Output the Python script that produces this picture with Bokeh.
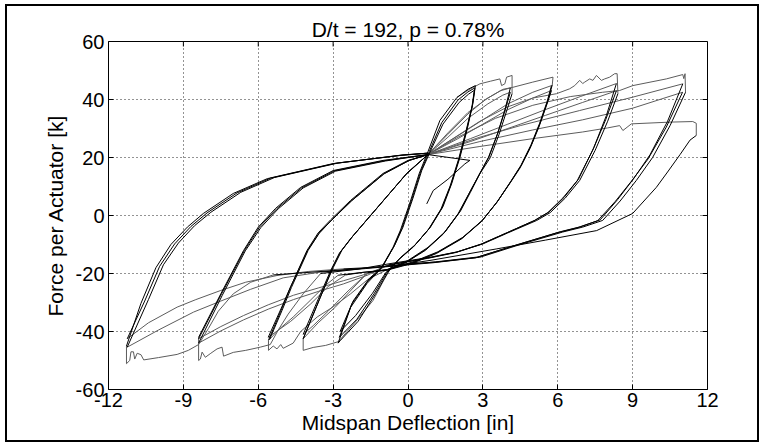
from bokeh.plotting import figure
from bokeh.models import Range1d, FixedTicker
from bokeh.embed import file_html
from bokeh.resources import INLINE

FONT = "Liberation Sans"
title_text = "D/t = 192, p = 0.78%"
x_label = "Midspan Deflection [in]"
y_label = "Force per Actuator [k]"
x_limits = (-12, 12)
y_limits = (-60, 60)
x_ticks = [-12, -9, -6, -3, 0, 3, 6, 9, 12]
x_tick_labels = ["-12", "-9", "-6", "-3", "0", "3", "6", "9", "12"]
y_ticks = [-60, -40, -20, 0, 20, 40, 60]
y_tick_labels = ["-60", "-40", "-20", "0", "20", "40", "60"]

# ---- +/-2.8 in cycles (lens loops) ----
lens1_up = ([-2.80, -2.30, -1.64, -1.10, -0.60, -0.30, 0.10, 0.45, 0.80, 1.28, 1.96, 2.40, 2.70],
            [-44.0, -31.7, -23.4, -18.5, -11.0, -5.0, 5.0, 14.5, 22.0, 32.8, 40.7, 43.5, 44.8])
lens1_dn = ([2.70, 2.60, 2.36, 2.08, 1.75, 1.40, 0.90, 0.30, -0.30, -0.80, -1.30, -2.00, -2.70, -2.80],
            [44.8, 38.6, 29.3, 20.0, 11.0, 3.0, -4.0, -10.0, -14.5, -19.5, -27.0, -36.5, -43.0, -44.0])
lens2_up = ([-2.75, -2.25, -1.60, -1.05, -0.55, -0.25, 0.15, 0.50, 0.85, 1.35, 2.00, 2.40, 2.68],
            [-42.0, -30.5, -22.5, -18.0, -10.5, -4.5, 5.5, 15.0, 22.0, 32.0, 39.8, 42.6, 44.0])
lens2_dn = ([2.68, 2.58, 2.33, 2.05, 1.72, 1.36, 0.86, 0.26, -0.34, -0.85, -1.36, -2.05, -2.75],
            [44.0, 38.0, 28.8, 19.6, 10.6, 2.6, -4.4, -10.4, -14.9, -19.6, -27.0, -35.8, -42.0])
lens3_up = ([-2.72, -2.20, -1.56, -1.02, -0.52, -0.20, 0.20, 0.55, 0.90, 1.40, 2.05, 2.42, 2.66],
            [-40.0, -29.5, -21.8, -17.6, -10.0, -4.0, 6.0, 15.5, 22.2, 31.5, 39.0, 41.8, 43.2])
lens3_dn = ([2.66, 2.56, 2.30, 2.02, 1.69, 1.32, 0.82, 0.22, -0.38, -0.90, -1.42, -2.10, -2.72],
            [43.2, 37.4, 28.3, 19.2, 10.2, 2.2, -4.8, -10.8, -15.3, -19.8, -26.8, -34.5, -40.0])

# ---- +/-4.1 in cycles ----
p4a = ([1.96, 2.40, 2.88, 3.30, 3.68, 3.75, 3.88, 3.95, 4.17, 4.17],
       [40.7, 43.2, 45.4, 46.3, 47.1, 44.8, 45.4, 47.7, 48.3, 42.0])
d4a = ([4.17, 3.95, 3.65, 3.30, 2.88, 2.50, 2.10, 1.50, 0.80, 0.00, -0.70],
       [42.0, 36.0, 28.0, 20.0, 14.4, 8.0, 1.5, -5.5, -11.0, -15.5, -18.3])
n4a = ([-0.70, -0.95, -1.40, -2.04, -2.79, -3.30, -3.80, -4.20, -4.20],
       [-18.3, -22.0, -29.3, -36.0, -43.5, -44.8, -45.5, -46.5, -42.5])
r4a = ([-4.20, -3.52, -3.00, -2.65, -2.20, -1.50, -0.70, 0.00, 0.80],
       [-42.5, -28.3, -18.0, -12.0, -7.0, 0.0, 8.0, 15.0, 21.0])
p4b = ([0.80, 1.60, 2.40, 3.10, 3.70, 4.10],
       [21.0, 28.0, 35.0, 40.0, 43.0, 44.0])
d4b = ([4.10, 3.90, 3.60, 3.25, 2.85, 2.45, 2.05, 1.45, 0.75, -0.05, -0.75, -1.60],
       [44.0, 37.0, 28.5, 20.3, 14.0, 7.6, 1.0, -6.0, -11.5, -16.0, -18.5, -19.6])
n4b = ([-1.60, -2.20, -2.90, -3.60, -4.20],
       [-19.6, -25.0, -31.5, -37.0, -42.5])
r4b = ([-4.20, -3.55, -3.05, -2.70, -2.25, -1.55, -0.75, -0.05, 0.80],
       [-42.5, -29.0, -18.5, -12.5, -7.5, -0.5, 7.5, 14.5, 21.0])
p4c = ([0.80, 1.60, 2.40, 3.20, 3.80, 4.10],
       [21.0, 27.0, 33.5, 38.5, 41.5, 42.5])
d4c = ([4.10, 3.88, 3.58, 3.22, 2.82, 2.42, 2.00, 1.40, 0.70, -0.10, -0.80, -1.60],
       [42.5, 36.0, 28.0, 20.0, 13.6, 7.2, 0.5, -6.5, -12.0, -16.3, -18.7, -19.7])
n4c = ([-1.60, -2.40, -3.20, -3.80, -4.20],
       [-19.7, -26.0, -33.0, -38.0, -41.0])
r4c = ([-4.20, -3.58, -3.10, -2.75, -2.30, -1.60, -0.80, -0.10, 0.80],
       [-41.0, -28.5, -19.0, -13.0, -8.0, -1.0, 7.0, 14.0, 21.0])

# ---- +5.8 / -5.6 in cycles ----
p6a = ([0.80, 1.60, 2.40, 3.20, 3.80, 4.20, 5.00, 5.81, 5.78],
       [21.0, 28.5, 35.5, 40.5, 43.5, 44.2, 46.0, 47.7, 45.0])
d6a = ([5.78, 5.60, 5.30, 4.95, 4.55, 4.15, 3.60, 3.00, 2.20, 1.20, 0.20, -0.80],
       [45.0, 39.5, 32.0, 24.5, 17.5, 12.1, 5.0, -1.5, -7.5, -12.5, -16.0, -18.5])
n6a = ([-0.80, -1.60, -2.30, -3.00, -3.64, -4.30, -4.60, -5.00, -5.10, -5.25, -5.40, -5.59, -5.59],
       [-18.5, -22.0, -27.0, -31.5, -35.0, -40.0, -44.0, -45.8, -44.5, -46.0, -45.0, -46.5, -43.0])
r6a = ([-5.59, -5.10, -4.72, -4.05, -3.60, -3.10, -2.30, -1.00, 0.00, 0.80],
       [-43.0, -33.0, -25.0, -12.1, -6.0, -1.5, 5.2, 14.5, 19.0, 21.0])
p6b = ([0.80, 2.00, 3.00, 4.00, 5.00, 5.75],
       [21.0, 27.5, 33.0, 38.5, 42.5, 44.8])
d6b = ([5.75, 5.57, 5.27, 4.92, 4.52, 4.12, 3.57, 2.97, 2.17, 1.17, 0.17, -0.83, -2.00, -2.80],
       [44.8, 39.2, 31.7, 24.2, 17.2, 11.8, 4.7, -1.8, -7.8, -12.8, -16.3, -18.7, -19.8, -20.6])
n6b = ([-2.80, -3.30, -3.92, -4.60, -5.20, -5.55],
       [-20.6, -24.0, -29.3, -35.0, -39.5, -42.8])
r6b = ([-5.55, -5.05, -4.67, -4.00, -3.55, -3.05, -2.25, -0.95, 0.05, 0.80],
       [-42.8, -32.8, -24.8, -12.0, -6.0, -1.5, 5.2, 14.5, 19.0, 21.0])
p6c = ([0.80, 2.00, 3.00, 4.00, 5.00, 5.75],
       [21.0, 26.5, 31.5, 36.5, 40.5, 43.1])
d6c = ([5.75, 5.54, 5.24, 4.89, 4.49, 4.09, 3.54, 2.94, 2.14, 1.14, 0.14, -0.86, -1.80, -2.50],
       [43.1, 37.7, 30.4, 23.1, 16.4, 11.2, 4.3, -2.1, -8.1, -13.1, -16.6, -18.9, -19.6, -20.5])
n6c = ([-2.50, -3.20, -3.90, -4.70, -5.60],
       [-20.5, -24.5, -30.5, -36.5, -42.0])
r6c = ([-5.60, -5.08, -4.70, -4.02, -3.57, -3.07, -2.27, -0.97, 0.03, 0.80],
       [-42.0, -32.0, -24.5, -12.0, -6.2, -1.7, 5.0, 14.3, 18.9, 21.0])

# ---- +/-8.4 in cycles ----
p8a = ([0.80, 1.80, 2.88, 4.00, 5.00, 5.95, 6.48, 6.68, 6.88, 7.00, 7.08, 7.28, 7.41, 7.55,
        7.75, 7.88, 8.08, 8.28, 8.38, 8.41],
       [21.0, 26.5, 32.5, 37.5, 40.5, 42.0, 43.7, 44.8, 46.6, 45.5, 46.0, 47.1, 46.6, 48.3,
        46.6, 47.1, 47.7, 48.9, 48.9, 42.0])
d8a = ([8.41, 8.00, 7.50, 6.88, 6.30, 5.70, 5.16, 4.00, 3.00, 2.00, 0.88, -0.72, -2.00, -3.50],
       [42.0, 32.5, 22.5, 12.1, 6.0, 1.0, -1.7, -6.0, -9.8, -12.5, -14.4, -16.6, -18.5, -20.0])
n8a = ([-3.50, -4.20, -4.80, -5.20, -5.52, -5.92, -6.50, -7.00, -7.39, -7.45, -7.65, -7.90,
        -8.12, -8.25, -8.32, -8.39, -8.39],
       [-20.0, -27.0, -34.0, -39.5, -44.5, -45.4, -46.5, -47.2, -48.5, -45.4, -46.0, -47.5,
        -48.9, -47.1, -49.5, -50.0, -42.0])
r8a = ([-8.39, -7.50, -6.59, -6.00, -5.30, -4.30, -3.00, -1.00, 0.80],
       [-42.0, -27.0, -12.1, -4.0, 2.5, 9.7, 15.5, 19.0, 21.0])
p8b = ([0.80, 2.50, 4.00, 5.50, 6.90, 8.35],
       [21.0, 26.5, 31.5, 36.5, 41.0, 45.5])
d8b = ([8.35, 7.95, 7.45, 6.83, 6.25, 5.65, 5.10, 3.95, 2.95, 1.95, 0.83, -0.77],
       [45.5, 34.5, 23.5, 12.5, 6.2, 1.2, -1.6, -6.0, -9.8, -12.6, -14.6, -17.0])
n8b = ([-0.77, -1.60, -2.59, -3.60, -4.59, -5.60, -6.59, -7.50, -8.39],
       [-17.0, -20.0, -22.5, -25.0, -27.5, -30.8, -34.5, -38.3, -42.5])
r8b = ([-8.39, -7.47, -6.55, -5.95, -5.25, -4.25, -2.95, -0.95, 0.80],
       [-42.5, -27.0, -12.0, -4.0, 2.4, 9.6, 15.4, 18.9, 21.0])
p8c = ([0.80, 2.50, 4.00, 5.50, 7.00, 8.35],
       [21.0, 25.5, 30.0, 34.5, 39.0, 43.0])
d8c = ([8.35, 7.92, 7.40, 6.78, 6.20, 5.60, 5.05, 3.90, 2.90, 1.90, 0.78, -0.82],
       [43.0, 33.0, 22.5, 12.0, 6.0, 1.0, -1.8, -6.2, -10.0, -12.8, -14.8, -17.2])
n8c = ([-0.82, -1.60, -2.59, -3.60, -4.59, -5.60, -6.59, -7.50, -8.39],
       [-17.2, -20.5, -23.6, -26.2, -29.0, -32.3, -36.0, -39.8, -44.0])
r8c = ([-8.39, -7.44, -6.52, -5.90, -5.20, -4.20, -2.90, -0.90, 0.80],
       [-44.0, -27.5, -12.2, -4.2, 2.3, 9.5, 15.3, 18.8, 21.0])

# ---- +11.1 / -11.25 in cycles ----
p11a = ([0.80, 2.00, 3.50, 5.00, 6.50, 7.80, 8.48, 9.01, 10.35, 11.01, 11.05, 11.10, 11.12],
        [21.0, 27.0, 33.5, 38.0, 41.0, 42.5, 43.1, 44.8, 47.1, 48.6, 47.2, 48.9, 42.5])
d11a = ([11.12, 10.50, 9.80, 9.15, 8.50, 7.80, 7.00, 6.20, 4.50, 2.88, 1.20, 0.20, -1.50, -3.00, -5.40],
        [42.5, 31.0, 20.0, 12.1, 5.0, -1.7, -4.0, -5.7, -10.0, -14.4, -16.0, -16.6, -18.0, -19.0, -20.5])
n11a = ([-5.40, -6.30, -7.00, -7.60, -8.00, -8.39, -8.80, -9.25, -10.00, -10.59, -10.70, -10.85,
         -10.95, -11.00, -11.10, -11.15, -11.28, -11.28],
        [-20.5, -23.0, -27.0, -33.0, -39.0, -44.5, -46.5, -47.9, -49.0, -49.8, -48.0, -47.5,
         -49.5, -47.0, -47.0, -50.0, -51.1, -45.0])
r11a = ([-11.28, -10.70, -10.10, -9.50, -8.84, -8.20, -7.00, -5.64, -3.00, -0.32, 0.80],
        [-45.0, -30.3, -18.0, -10.0, -4.0, 0.7, 7.6, 12.7, 17.9, 20.7, 21.5])
p11b = ([0.80, 2.88, 4.50, 6.88, 9.00, 11.01],
        [21.0, 27.0, 31.0, 36.2, 40.8, 45.4])
d11b = ([11.01, 10.40, 9.70, 9.05, 8.40, 7.70, 6.90, 6.10, 4.40, 2.80, 1.10, 0.10, -1.60, -2.59],
        [45.4, 32.5, 21.0, 12.8, 5.5, -1.5, -3.9, -5.6, -10.0, -14.3, -16.0, -16.8, -18.0, -18.4])
n11b = ([-2.59, -4.00, -5.25, -6.50, -7.52, -8.50, -9.25, -10.40, -11.25],
        [-18.4, -19.3, -20.7, -23.0, -25.9, -29.0, -31.6, -37.0, -42.5])
r11b = ([-11.25, -10.55, -9.95, -9.35, -8.70, -8.05, -6.85, -5.50, -2.90, -0.25, 0.80],
        [-42.5, -29.5, -17.5, -9.8, -3.8, 0.9, 7.8, 12.9, 18.0, 20.8, 21.5])
p11c = ([0.80, 2.88, 5.00, 7.00, 9.00, 11.00],
        [21.0, 25.5, 29.5, 33.0, 37.0, 42.5])
d11c = ([11.00, 10.35, 9.62, 8.95, 8.30, 7.60, 6.80, 6.00, 4.30, 2.70, 1.00, 0.00, -1.70, -3.50],
        [42.5, 30.5, 19.5, 11.8, 4.8, -1.8, -4.2, -5.9, -10.3, -14.6, -16.3, -17.0, -18.3, -19.5])
n11c = ([-3.50, -5.00, -6.32, -7.50, -8.59, -10.00, -11.25],
        [-19.5, -21.5, -25.5, -29.5, -33.3, -39.5, -45.4])
r11c = ([-11.25, -10.40, -9.80, -9.20, -8.55, -7.90, -6.70, -5.35, -2.80, -0.20, 0.80],
        [-45.4, -29.0, -17.0, -9.5, -3.5, 1.1, 8.0, 13.1, 18.1, 20.9, 21.5])

# ---- final (degraded) excursion ----
pf = ([0.80, 2.88, 5.00, 7.00, 8.00, 8.48, 8.61, 8.95, 10.50, 11.41, 11.55, 11.55],
      [21.0, 23.8, 26.5, 28.8, 30.2, 31.0, 29.3, 31.6, 32.2, 32.4, 31.8, 27.6])
df = ([11.55, 11.30, 10.90, 10.40, 9.95, 9.00, 7.56, 5.50, 3.56, 0.88, -0.70],
      [27.6, 26.0, 21.0, 15.0, 9.7, 0.7, -5.2, -8.5, -11.5, -15.5, -17.5])
tail = ([0.80, 2.48, 2.28, 1.60, 1.01, 0.75],
        [21.0, 19.0, 17.8, 12.5, 8.6, 4.0])

black_branches = [lens1_up, lens1_dn, lens2_up, lens2_dn, lens3_up, lens3_dn,
                  d4a, r4a, d4b, r4b, d4c, r4c,
                  d6a, r6a, d6b, r6b, d6c, r6c,
                  d8a, r8a, d8b, r8b, d8c, r8c,
                  d11a, r11a, d11b, r11b, d11c, r11c,
                  df, tail]
gray_branches = [p4a, n4a, p4b, n4b, p4c, n4c,
                 p6a, n6a, p6b, n6b, p6c, n6c,
                 p8a, n8a, p8b, n8b, p8c, n8c,
                 p11a, n11a, p11b, n11b, p11c, n11c,
                 pf]

FW, FH = 599, 348
p = figure(frame_width=FW, frame_height=FH,
           x_range=Range1d(*x_limits), y_range=Range1d(*y_limits),
           output_backend="svg", toolbar_location=None,
           min_border_left=101, min_border_right=50, min_border_top=35, min_border_bottom=51)
p.margin = (4, 0, 0, 5)
p.styles = {"border": "2px solid black"}
p.background_fill_color = "white"
p.border_fill_color = "white"
p.outline_line_color = "black"
p.outline_line_width = 1
p.outline_line_alpha = 1.0

p.title.text = title_text
p.title.align = "center"
p.title.text_font = FONT
p.title.text_font_size = "21px"
p.title.text_font_style = "normal"
p.title.text_color = "black"
p.title.standoff = 2

xa = p.xaxis[0]
ya = p.yaxis[0]
xa.ticker = FixedTicker(ticks=x_ticks)
ya.ticker = FixedTicker(ticks=y_ticks)
xa.major_label_overrides = dict(zip(x_ticks, x_tick_labels))
ya.major_label_overrides = dict(zip(y_ticks, y_tick_labels))
xa.axis_label = x_label
ya.axis_label = y_label
for ax in (xa, ya):
    ax.axis_line_color = None
    ax.major_tick_in = 5
    ax.major_tick_out = 0
    ax.major_tick_line_color = "black"
    ax.minor_tick_line_color = None
    ax.major_label_text_font = FONT
    ax.major_label_text_font_size = "20px"
    ax.major_label_text_color = "black"
    ax.axis_label_text_font = FONT
    ax.axis_label_text_font_size = "21px"
    ax.axis_label_text_font_style = "normal"
    ax.axis_label_text_color = "black"
xa.major_label_standoff = 3
xa.axis_label_standoff = 1
ya.major_label_standoff = 4
ya.axis_label_standoff = 6

p.xgrid.ticker = FixedTicker(ticks=x_ticks)
p.ygrid.ticker = FixedTicker(ticks=y_ticks)
for g in (p.xgrid, p.ygrid):
    g.grid_line_color = "black"
    g.grid_line_dash = "1 3"
    g.grid_line_alpha = 0.85
    g.grid_line_width = 1

for bx, by in gray_branches:
    p.line(bx, by, line_color="#5c5c5c", line_width=1)
for bx, by in black_branches:
    p.line(bx, by, line_color="black", line_width=1)

# inward tick marks on the top and right edges (MATLAB box style), 5 px long
tick_px = 5
dx = tick_px * (x_limits[1] - x_limits[0]) / FW
dy = tick_px * (y_limits[1] - y_limits[0]) / FH
p.segment(x0=x_ticks, y0=[y_limits[1]] * len(x_ticks), x1=x_ticks,
          y1=[y_limits[1] - dy] * len(x_ticks), line_color="black", line_width=1)
p.segment(x0=[x_limits[1]] * len(y_ticks), y0=y_ticks, x1=[x_limits[1] - dx] * len(y_ticks),
          y1=y_ticks, line_color="black", line_width=1)

open("out.html", "w").write(file_html(p, INLINE))
